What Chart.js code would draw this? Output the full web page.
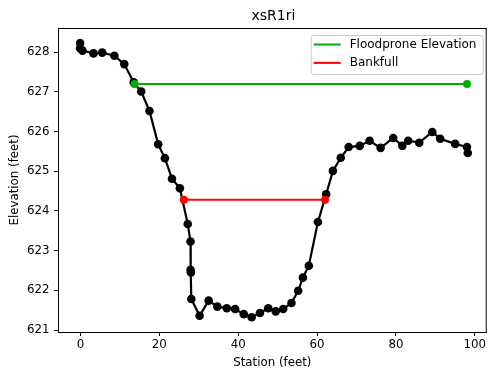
<!DOCTYPE html>
<html>
<head>
<meta charset="utf-8">
<script src="https://cdn.jsdelivr.net/npm/chart.js@4/dist/chart.umd.min.js"></script>
<style>
  html, body { margin: 0; padding: 0; background: #fff; }
  #wrap { width: 491px; height: 369px; }
</style>
</head>
<body>
<div id="wrap"><canvas id="chart" width="491" height="369"></canvas></div>
<script>
// cross-section survey (station / elevation, feet)
const station = [-0.1, -0.1, 0.5, 3.3, 5.5, 8.6, 11.1, 13.5, 15.4, 17.5, 19.7, 21.4, 23.2, 25.2,
  27.2, 27.9, 27.9, 28.0, 28.1, 30.2, 32.5, 34.7, 37.1, 39.2, 41.4, 43.4, 45.5, 47.6, 49.5,
  51.4, 53.5, 55.2, 56.4, 57.9, 60.2, 62.3, 64.0, 66.0, 68.0, 70.8, 73.3, 76.1, 79.3, 81.6,
  83.1, 85.9, 89.2, 91.2, 95.0, 98.0, 98.2];
const elevation = [628.23, 628.10, 628.04, 627.97, 627.99, 627.91, 627.70, 627.24, 627.01,
  626.52, 625.68, 625.33, 624.81, 624.57, 623.67, 623.23, 622.52, 622.45, 621.78, 621.36,
  621.74, 621.59, 621.55, 621.53, 621.40, 621.32, 621.43, 621.55, 621.47, 621.53, 621.68,
  621.99, 622.32, 622.62, 623.72, 624.42, 625.01, 625.34, 625.61, 625.64, 625.77, 625.59,
  625.84, 625.64, 625.77, 625.72, 625.99, 625.82, 625.69, 625.61, 625.46];

const floodproneX = [13.7, 98.0];
const floodproneY = [627.20, 627.20];
const bankfullX = [26.2, 62.0];
const bankfullY = [624.28, 624.28];

const xTicks = [0, 20, 40, 60, 80, 100];
const yTicks = [621, 622, 623, 624, 625, 626, 627, 628];

const FONT = 'DejaVu Sans';

function pts(xs, ys) {
    return xs.map((x, i) => ({ x, y: ys[i] }));
}

// spines on top/right, title over the plot area, boxed legend
const extras = {
    id: 'extras',
    afterDraw(chart) {
        const { ctx, chartArea: a } = chart;
        ctx.save();
        ctx.strokeStyle = '#000';
        ctx.lineWidth = 1;
        ctx.beginPath();
        ctx.moveTo(a.left, a.top + 0.5);
        ctx.lineTo(a.right, a.top + 0.5);
        ctx.moveTo(a.right - 0.5, a.top);
        ctx.lineTo(a.right - 0.5, a.bottom);
        ctx.stroke();

        ctx.fillStyle = '#000';
        ctx.font = '14px "' + FONT + '"';
        ctx.textAlign = 'center';
        ctx.textBaseline = 'middle';
        ctx.fillText('xsR1ri', (a.left + a.right) / 2 + 1, 16);

        // legend
        const bx = a.right - 176, by = a.top + 7, bw = 172, bh = 39;
        ctx.fillStyle = 'rgba(255,255,255,0.8)';
        ctx.strokeStyle = '#cccccc';
        ctx.beginPath();
        ctx.roundRect(bx + 0.5, by + 0.5, bw, bh, 3);
        ctx.fill();
        ctx.stroke();

        const items = chart.data.datasets.filter(d => d.inLegend);
        ctx.font = '12px "' + FONT + '"';
        ctx.textAlign = 'left';
        items.forEach((d, i) => {
            const y = by + 9.5 + i * 18.4;
            ctx.strokeStyle = d.borderColor;
            ctx.lineWidth = 2;
            ctx.beginPath();
            ctx.moveTo(bx + 3, y);
            ctx.lineTo(bx + 30, y);
            ctx.stroke();
            ctx.fillStyle = '#000';
            ctx.fillText(d.label, bx + 39, y);
        });
        ctx.restore();
    }
};

new Chart(document.getElementById('chart'), {
    type: 'scatter',
    data: {
        datasets: [
            {
                label: 'Floodprone Elevation',
                inLegend: true,
                data: pts(floodproneX, floodproneY),
                showLine: true,
                borderColor: '#00ad00',
                backgroundColor: '#00ad00',
                borderWidth: 2,
                pointRadius: 4,
                pointBorderWidth: 0
            },
            {
                label: 'Bankfull',
                inLegend: true,
                data: pts(bankfullX, bankfullY),
                showLine: true,
                borderColor: '#ff0000',
                backgroundColor: '#ff0000',
                borderWidth: 2,
                pointRadius: 4,
                pointBorderWidth: 0
            },
            {
                label: 'Ground',
                data: pts(station, elevation),
                showLine: true,
                borderColor: '#000',
                backgroundColor: '#000',
                borderWidth: 2.2,
                pointRadius: 4.3,
                pointBorderWidth: 0
            }
        ]
    },
    options: {
        responsive: false,
        animation: false,
        layout: { padding: { top: 28, right: 1, left: 0, bottom: 0 } },
        plugins: {
            legend: { display: false },
            tooltip: { enabled: false }
        },
        scales: {
            x: {
                type: 'linear',
                min: -5.7,
                max: 103,
                afterFit: s => { s.height = 37; },
                afterBuildTicks: s => { s.ticks = xTicks.map(v => ({ value: v })); },
                ticks: { color: '#000', font: { family: FONT, size: 11.8 }, padding: 2, maxRotation: 0 },
                grid: { display: true, drawOnChartArea: false, drawTicks: true, tickLength: 4, color: '#000' },
                border: { display: true, color: '#000', width: 1 },
                title: { display: true, text: 'Station (feet)', color: '#000',
                    font: { family: FONT, size: 11.8, lineHeight: 1 }, padding: { top: 0, bottom: 0 } }
            },
            y: {
                type: 'linear',
                min: 620.95,
                max: 628.61,
                afterFit: s => { s.width = 58; },
                afterBuildTicks: s => { s.ticks = yTicks.map(v => ({ value: v })); },
                ticks: { color: '#000', font: { family: FONT, size: 11.8 }, padding: 4.5 },
                grid: { display: true, drawOnChartArea: false, drawTicks: true, tickLength: 4, color: '#000' },
                border: { display: true, color: '#000', width: 1 },
                title: { display: true, text: 'Elevation (feet)', color: '#000',
                    font: { family: FONT, size: 11.8, lineHeight: 1 }, padding: { top: 9, bottom: 0 } }
            }
        }
    },
    plugins: [extras]
});
</script>
</body>
</html>
